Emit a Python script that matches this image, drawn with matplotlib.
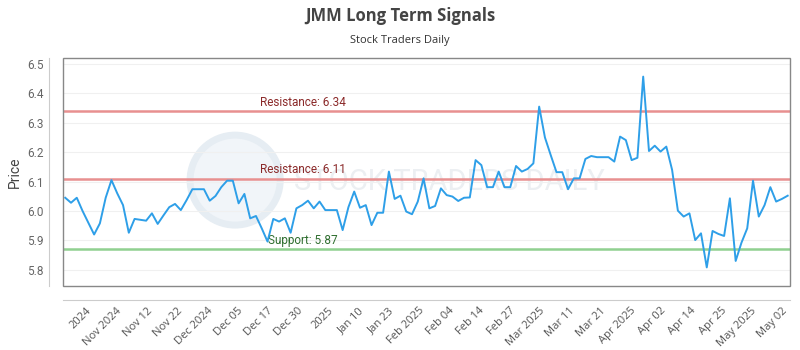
import numpy as np
import matplotlib
matplotlib.use("Agg")
import matplotlib.pyplot as plt
from matplotlib.patches import Rectangle, Ellipse

# closing prices, one per trading day
prices = [
    6.045, 6.028, 6.045, 6.000, 5.960, 5.920, 5.958, 6.045, 6.105, 6.060,
    6.020, 5.926, 5.973, 5.970, 5.967, 5.992, 5.956, 5.985, 6.013, 6.024,
    6.003, 6.037, 6.074, 6.074, 6.074, 6.035, 6.051, 6.081, 6.103, 6.103,
    6.026, 6.058, 5.975, 5.983, 5.941, 5.896, 5.973, 5.964, 5.975, 5.926,
    6.009, 6.020, 6.035, 6.009, 6.032, 6.003, 6.003, 6.003, 5.935, 6.013,
    6.066, 6.011, 6.020, 5.952, 5.994, 5.994, 6.134, 6.041, 6.052, 5.998,
    5.989, 6.032, 6.111, 6.009, 6.017, 6.077, 6.054, 6.049, 6.034, 6.045,
    6.046, 6.173, 6.156, 6.081, 6.081, 6.134, 6.081, 6.081, 6.153, 6.134,
    6.143, 6.162, 6.355, 6.250, 6.190, 6.132, 6.132, 6.074, 6.111, 6.111,
    6.177, 6.187, 6.183, 6.183, 6.183, 6.168, 6.253, 6.241, 6.173, 6.181,
    6.457, 6.204, 6.222, 6.202, 6.219, 6.140, 6.001, 5.981, 5.992, 5.901,
    5.924, 5.808, 5.932, 5.922, 5.915, 6.043, 5.830, 5.892, 5.941, 6.103,
    5.981, 6.020, 6.081, 6.032, 6.041, 6.052,
]

tick_labels = [
    "2024", "Nov 2024", "Nov 12", "Nov 22", "Dec 2024", "Dec 05", "Dec 17",
    "Dec 30", "2025", "Jan 10", "Jan 23", "Feb 2025", "Feb 04", "Feb 14",
    "Feb 27", "Mar 2025", "Mar 11", "Mar 21", "Apr 2025", "Apr 02", "Apr 14",
    "Apr 25", "May 2025", "May 02",
]

resistance = [6.34, 6.11]
support = [5.87]

fig = plt.figure(figsize=(8, 3.5), dpi=100)
ax = fig.add_axes([0.079, 0.183, 0.9085, 0.651])

# spines first: set_position resets the tick label styling
for side in ["top", "right"]:
    ax.spines[side].set_visible(False)
for side in ["left", "bottom"]:
    ax.spines[side].set_position(("outward", 10))
    ax.spines[side].set_color("#cccccc")
ax.add_patch(Rectangle((0, 0), 1, 1, transform=ax.transAxes, fill=False,
                       edgecolor="#888888", lw=1, clip_on=False, zorder=4))

x = np.arange(len(prices))

# watermark (logo circle + name)
ax.add_patch(Ellipse((29.4, 6.105), 15.6, 0.306, facecolor="#f1f5f9",
                     edgecolor="#e6edf3", lw=5, zorder=0))
ax.text(66.5, 6.1, "STOCK TRADERS DAILY", fontsize=21, color="#eceff2",
        ha="center", va="center", family="Roboto", zorder=0)

for r in resistance:
    ax.axhline(r, color="#e89090", lw=1.8, zorder=1)
    ax.text(33.7, r + 0.008, f"Resistance: {r:.2f}", color="#8b2a2a",
            fontsize=8.5, family="Roboto", va="bottom")
for s in support:
    ax.axhline(s, color="#90d090", lw=1.8, zorder=1)
    ax.text(35.1, s + 0.006, f"Support: {s:.2f}", color="#2f6e2f",
            fontsize=8.5, family="Roboto", va="bottom")

ax.plot(x, prices, color="#2e9fe8", lw=1.4, zorder=3)

ax.set_xlim(-0.35, 125.4)
ax.set_ylim(5.745, 6.52)
ax.tick_params(length=0, pad=4)
ax.grid(axis="y", color="#f0f0f0", lw=0.8)
ax.set_axisbelow(True)

yt = np.arange(5.8, 6.51, 0.1)
ax.set_yticks(yt)
ax.set_yticklabels([f"{v:.1f}" for v in yt], family="Roboto", fontsize=8.5,
                   color="#666666")
ax.set_xticks(np.linspace(3.6, 123.9, len(tick_labels)))
ax.set_xticklabels(tick_labels, rotation=45, ha="right",
                   rotation_mode="anchor", family="Open Sans",
                   fontsize=8, color="#555555")

ax.set_ylabel("Price", family="Roboto", fontsize=10, color="#444444")

fig.text(0.5, 0.955, "JMM Long Term Signals", ha="center", va="center",
         fontsize=12, fontweight="bold", family="Open Sans", color="#444444")
fig.text(0.5, 0.885, "Stock Traders Daily", ha="center", va="center",
         fontsize=8, family="Open Sans", color="#333333")

fig.savefig("out.png", dpi=100)
